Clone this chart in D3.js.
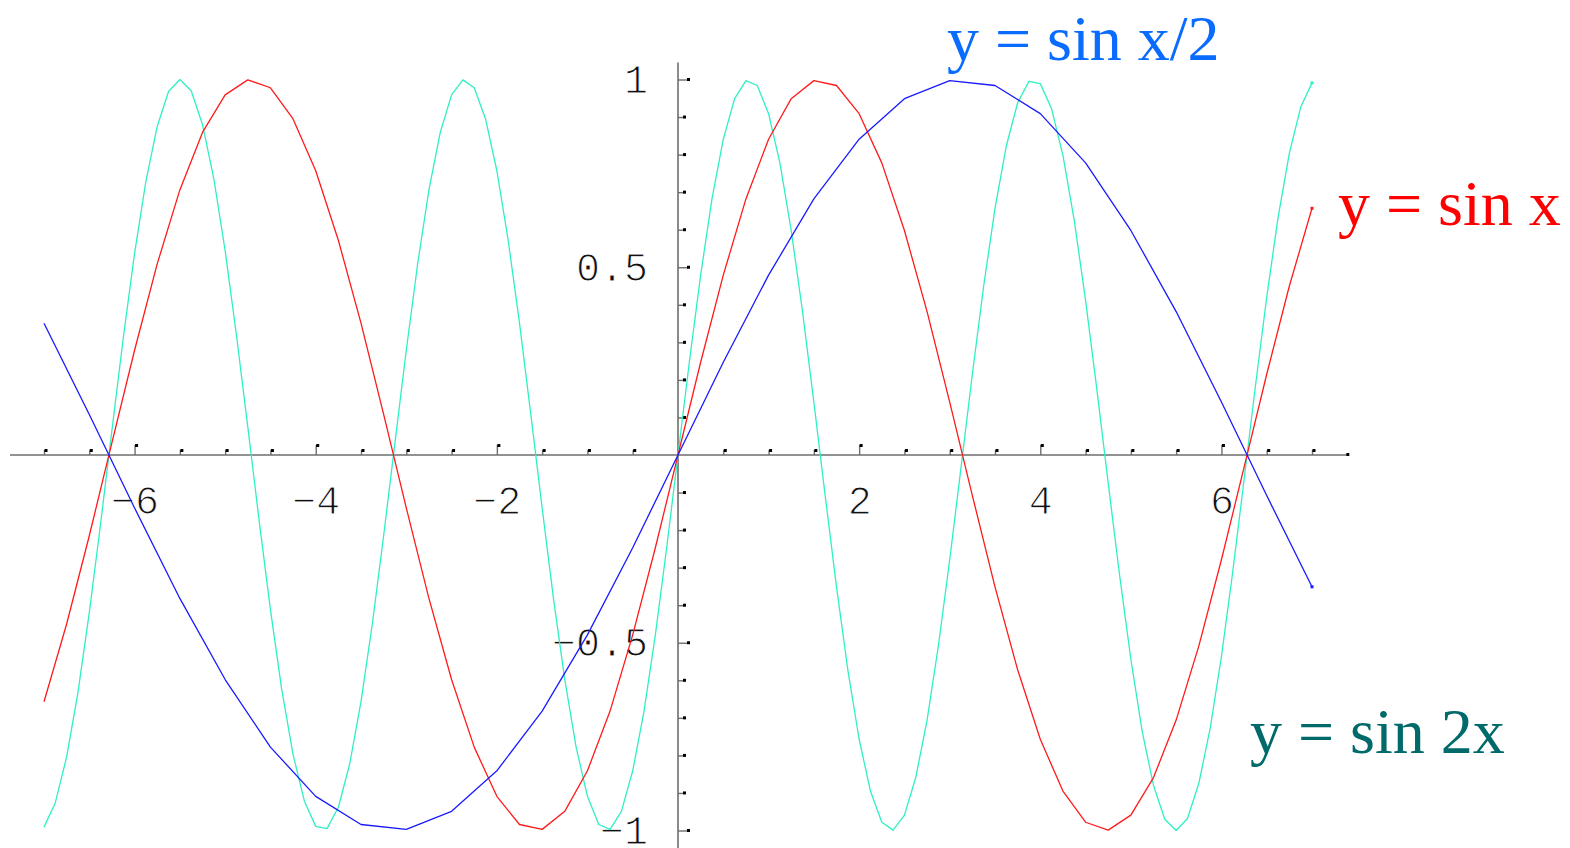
<!DOCTYPE html>
<html>
<head>
<meta charset="utf-8">
<script src="https://cdn.jsdelivr.net/npm/d3@7"></script>
<style>
  html, body { margin: 0; padding: 0; background: #fff; }
  svg { display: block; }
</style>
</head>
<body>
<svg id="chart" width="1570" height="848"></svg>
<script>
// Sampled curves on [-7, 7]
const sinXStep = 0.25;      // y = sin x
const sinX = [-0.657, -0.450, -0.215, 0.033, 0.279, 0.509, 0.706, 0.859, 0.959, 0.999, 0.978, 0.895, 0.757, 0.572, 0.351, 0.108, -0.141, -0.382, -0.598, -0.778, -0.909, -0.984, -0.997, -0.949, -0.841, -0.682, -0.479, -0.247, 0, 0.247, 0.479, 0.682, 0.841, 0.949, 0.997, 0.984, 0.909, 0.778, 0.598, 0.382, 0.141, -0.108, -0.351, -0.572, -0.757, -0.895, -0.978, -0.999, -0.959, -0.859, -0.706, -0.509, -0.279, -0.033, 0.215, 0.450, 0.657];

const sinHalfStep = 0.5;    // y = sin x/2
const sinHalfX = [0.351, 0.108, -0.141, -0.382, -0.598, -0.778, -0.909, -0.984, -0.997, -0.949, -0.841, -0.682, -0.479, -0.247, 0, 0.247, 0.479, 0.682, 0.841, 0.949, 0.997, 0.984, 0.909, 0.778, 0.598, 0.382, 0.141, -0.108, -0.351];

const sin2Step = 0.125;     // y = sin 2x
const sin2X = [-0.991, -0.926, -0.804, -0.632, -0.420, -0.183, 0.066, 0.311, 0.537, 0.729, 0.875, 0.968, 1.000, 0.970, 0.880, 0.736, 0.544, 0.319, 0.075, -0.174, -0.412, -0.625, -0.798, -0.922, -0.989, -0.995, -0.938, -0.823, -0.657, -0.450, -0.215, 0.033, 0.279, 0.508, 0.706, 0.859, 0.959, 0.999, 0.978, 0.895, 0.757, 0.572, 0.351, 0.108, -0.141, -0.382, -0.598, -0.778, -0.909, -0.984, -0.997, -0.949, -0.841, -0.682, -0.479, -0.247,
  0,
  0.247, 0.479, 0.682, 0.841, 0.949, 0.997, 0.984, 0.909, 0.778, 0.598, 0.382, 0.141, -0.108, -0.351, -0.572, -0.757, -0.895, -0.978, -0.999, -0.959, -0.859, -0.706, -0.508, -0.279, -0.033, 0.215, 0.450, 0.657, 0.823, 0.938, 0.995, 0.989, 0.922, 0.798, 0.625, 0.412, 0.174, -0.075, -0.319, -0.544, -0.736, -0.880, -0.970, -1.000, -0.968, -0.875, -0.729, -0.537, -0.311, -0.066, 0.183, 0.420, 0.632, 0.804, 0.926, 0.991];

const xStart = -7;

// Tick values and labels
const xMajorTicks = [-6, -4, -2, 2, 4, 6];
const xMinorTicks = [-7, -6.5, -5.5, -5, -4.5, -3.5, -3, -2.5, -1.5, -1, -0.5, 0.5, 1, 1.5, 2.5, 3, 3.5, 4.5, 5, 5.5, 6.5, 7];
const yMajorTicks = [-1, -0.5, 0.5, 1];
const yMinorTicks = [-0.9, -0.8, -0.7, -0.6, -0.4, -0.3, -0.2, -0.1, 0.1, 0.2, 0.3, 0.4, 0.6, 0.7, 0.8, 0.9];
const xTickLabels = ["−6", "−4", "−2", "2", "4", "6"];
const yTickLabels = ["−1", "−0.5", "0.5", "1"];

// Curve captions
const captions = ["y = sin x/2", "y = sin x", "y = sin 2x"];

// ---- layout ----
const svg = d3.select("#chart");
const x = d3.scaleLinear().domain([-7, 7]).range([44, 1312]);
const y = d3.scaleLinear().domain([-1, 1]).range([830.5, 79.5]);
const xAxisExtent = [-7.375, 7.39];
const yAxisExtent = [-1.05, 1.045];
const axisColor = "#6e6e6e";

function toPoints(values, step) {
  return values.map((v, i) => [xStart + i * step, v]);
}

const series = [
  { values: sin2X, step: sin2Step, color: "#2ff0c2" },
  { values: sinX, step: sinXStep, color: "#ff1a1a" },
  { values: sinHalfX, step: sinHalfStep, color: "#1a1aff" }
];

const line = d3.line().x(d => x(d[0])).y(d => y(d[1]));

// Axis lines crossing at the origin
svg.append("line")
  .attr("x1", x(xAxisExtent[0])).attr("x2", x(xAxisExtent[1]))
  .attr("y1", y(0)).attr("y2", y(0))
  .attr("stroke", axisColor).attr("stroke-width", 1.6);
svg.append("line")
  .attr("x1", x(0)).attr("x2", x(0))
  .attr("y1", y(yAxisExtent[0])).attr("y2", y(yAxisExtent[1]))
  .attr("stroke", axisColor).attr("stroke-width", 1.6);
svg.append("rect")
  .attr("x", x(xAxisExtent[1]) - 1).attr("y", y(0) - 2)
  .attr("width", 3).attr("height", 3).attr("fill", "#000");

// X ticks (pointing up, dotted tip)
function xTicks(values, len) {
  const g = svg.append("g").attr("transform", `translate(0,${y(0)})`)
    .call(d3.axisTop(x).tickValues(values).tickSize(len).tickFormat(""));
  g.select(".domain").remove();
  g.selectAll(".tick line").attr("stroke", axisColor).attr("stroke-width", 1.4);
  g.selectAll(".tick").append("rect")
    .attr("x", 0).attr("y", -len - 1).attr("width", 3).attr("height", 3).attr("fill", "#000");
}
xTicks(xMinorTicks, 5);
xTicks(xMajorTicks, 10);

// Y ticks (pointing right, dotted tip)
function yTicks(values, len) {
  const g = svg.append("g").attr("transform", `translate(${x(0)},0)`)
    .call(d3.axisRight(y).tickValues(values).tickSize(len).tickFormat(""));
  g.select(".domain").remove();
  g.selectAll(".tick line").attr("stroke", axisColor).attr("stroke-width", 1.4);
  g.selectAll(".tick").append("rect")
    .attr("x", len - 1).attr("y", -2).attr("width", 3).attr("height", 3).attr("fill", "#000");
}
yTicks(yMinorTicks, 6);
yTicks(yMajorTicks, 10);

// Tick labels: thin monospace digits (a white outline trims the strokes)
const labelFont = "'Liberation Mono', 'DejaVu Sans Mono', monospace";
function styleLabels(sel) {
  sel.attr("font-family", labelFont).attr("font-size", 40)
    .attr("fill", "#111")
    .attr("stroke", "#fff").attr("stroke-width", 1.1)
    .style("paint-order", "fill");
}
const xl = svg.append("g").attr("transform", `translate(0,${y(0)})`)
  .call(d3.axisBottom(x).tickValues(xMajorTicks).tickSize(0).tickPadding(31)
    .tickFormat((d, i) => xTickLabels[i]));
xl.select(".domain").remove();
xl.selectAll("text").call(styleLabels);

const yl = svg.append("g").attr("transform", `translate(${x(0)},0)`)
  .call(d3.axisLeft(y).tickValues(yMajorTicks).tickSize(0).tickPadding(30)
    .tickFormat((d, i) => yTickLabels[i]));
yl.select(".domain").remove();
yl.selectAll("text").call(styleLabels);

// Curves
series.forEach(s => {
  const pts = toPoints(s.values, s.step);
  svg.append("path")
    .attr("d", line(pts))
    .attr("fill", "none")
    .attr("stroke", s.color)
    .attr("stroke-width", 1.3)
    .attr("stroke-linejoin", "round");
  const last = pts[pts.length - 1];
  svg.append("rect")
    .attr("x", x(last[0]) - 1.5).attr("y", y(last[1]) - 1.5)
    .attr("width", 3).attr("height", 3).attr("fill", s.color);
});

// Captions
const capFont = "'Liberation Serif', 'Times New Roman', serif";
const capStyle = [
  { x: 947, y: 60, color: "#0a6cff" },
  { x: 1338, y: 225, color: "#ff0000" },
  { x: 1250, y: 753, color: "#006a6a" }
];
captions.forEach((t, i) => {
  svg.append("text")
    .attr("x", capStyle[i].x).attr("y", capStyle[i].y)
    .attr("font-family", capFont).attr("font-size", 64)
    .attr("fill", capStyle[i].color)
    .text(t);
});
</script>
</body>
</html>
